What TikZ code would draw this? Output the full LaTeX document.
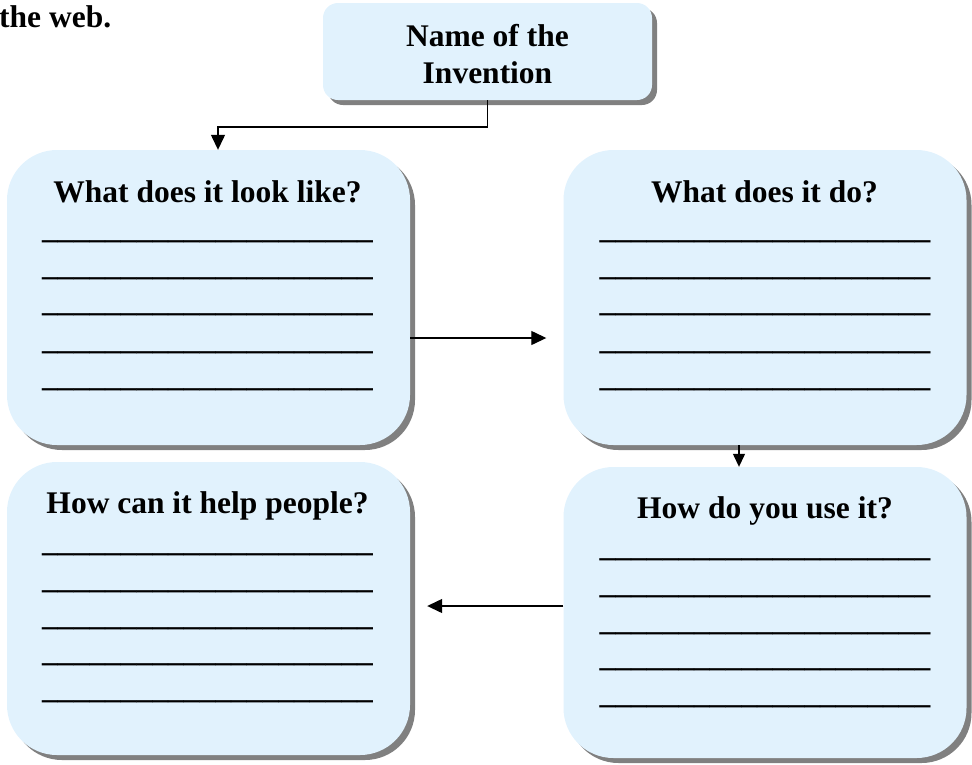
\documentclass[tikz,border=0pt]{standalone}
\usepackage{fontspec}
\setmainfont{Liberation Serif}
\usetikzlibrary{arrows.meta,shadows}
\definecolor{boxblue}{RGB}{225,242,253}
\definecolor{shadowgray}{RGB}{128,128,128}
\newcommand\blankline{\_\_\_\_\_\_\_\_\_\_\_\_\_\_\_\_\_\_\_\_\_}
\begin{document}
\begin{tikzpicture}[x=1pt,y=-1pt,
  txt/.style={font=\bfseries\fontsize{31.5}{37}\selectfont, inner sep=0pt, anchor=base},
  panel/.style={fill=boxblue, draw=none, rounded corners=50pt, minimum width=403pt, minimum height=295pt, inner sep=0pt,
    general shadow={fill=shadowgray, shadow xshift=5pt, shadow yshift=-5pt}},
  conn/.style={line width=1.3pt, -{Triangle[length=15pt,width=14pt]}},
  connsmall/.style={line width=1.3pt, -{Triangle[length=13pt,width=12pt]}}
]
\useasboundingbox (0,0) rectangle (972,764);

% partial text at the top left
\node[txt, anchor=base west] (web) at (-1,27) {the web.};

% top box
\node[panel, minimum width=329pt, minimum height=97pt, rounded corners=15pt] (top) at (487.5,51.5) {};
\node[txt] (topa) at (487.5,46) {Name of the};
\node[txt] (topb) at (487.5,83) {Invention};

% four panels
\node[panel] (lt) at (208.5,297.5) {};
\node[panel] (rt) at (765,297.5) {};
\node[panel, minimum height=293pt] (lb) at (208.5,608.5) {};
\node[panel, minimum height=291pt] (rb) at (765,612.5) {};

\node[txt] (ltt) at (207.5,202) {What does it look like?};
\node[txt] (rtt) at (764.5,202) {What does it do?};
\node[txt] (lbt) at (207.5,513) {How can it help people?};
\node[txt] (rbt) at (765,518) {How do you use it?};

\foreach \y [count=\i] in {240,277,313,351,388}{
  \node[txt] (ltl\i) at (207.5,\y-2) {\blankline};
  \node[txt] (rtl\i) at (765,\y-2) {\blankline};
}
\foreach \y [count=\i] in {553,590,627,663,700}{
  \node[txt] (lbl\i) at (207.5,\y-2) {\blankline};
}
\foreach \y [count=\i] in {558,595,632,668,705}{
  \node[txt] (rbl\i) at (765,\y-2) {\blankline};
}

% connectors
\coordinate (c1) at (218,127);
\draw[conn] (top.south) |- (c1) -- (c1 |- lt.north);
\coordinate (c2) at (0,338);
\draw[conn, shorten >=17pt] (lt.east |- c2) -- (rt.west |- c2);
\coordinate (c3) at (739,0);
\draw[connsmall] (rt.south -| c3) -- (rb.north -| c3);
\coordinate (c4) at (0,606);
\draw[conn, shorten >=17pt] (rb.west |- c4) -- (lb.east |- c4);
\end{tikzpicture}
\end{document}
